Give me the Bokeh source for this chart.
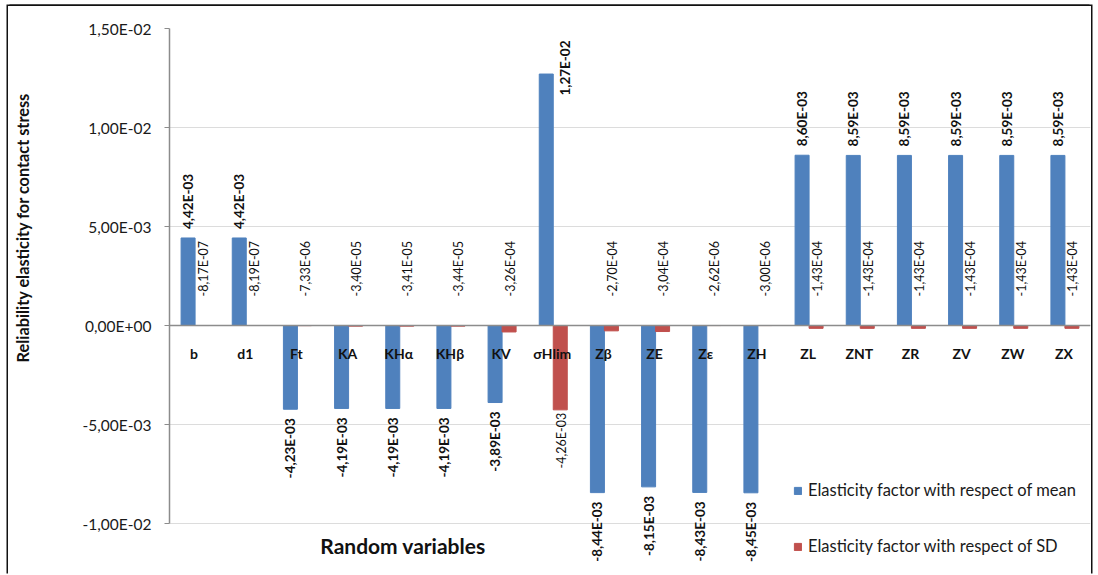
import math
from bokeh.plotting import figure
from bokeh.layouts import row
from bokeh.models import Range1d, FixedTicker, Span, Label, Legend, LegendItem, ColumnDataSource
from bokeh.core.properties import value
from bokeh.embed import file_html
from bokeh.resources import INLINE

# ---------------- data ----------------
categories = ["b", "d1", "Ft", "KA", "KH\u03b1", "KH\u03b2", "KV", "\u03c3Hlim", "Z\u03b2", "ZE",
              "Z\u03b5", "ZH", "ZL", "ZNT", "ZR", "ZV", "ZW", "ZX"]
mean_factor = [4.42e-3, 4.42e-3, -4.23e-3, -4.19e-3, -4.19e-3, -4.19e-3, -3.89e-3, 1.27e-2,
               -8.44e-3, -8.15e-3, -8.43e-3, -8.45e-3, 8.60e-3, 8.59e-3, 8.59e-3, 8.59e-3, 8.59e-3, 8.59e-3]
sd_factor = [-8.17e-7, -8.19e-7, -7.33e-6, -3.40e-5, -3.41e-5, -3.44e-5, -3.26e-4, -4.26e-3,
             -2.70e-4, -3.04e-4, -2.62e-6, -3.00e-6, -1.43e-4, -1.43e-4, -1.43e-4, -1.43e-4, -1.43e-4, -1.43e-4]
tick_values = [-0.01, -0.005, 0.0, 0.005, 0.01, 0.015]
tick_labels = ["-1,00E-02", "-5,00E-03", "0,00E+00", "5,00E-03", "1,00E-02", "1,50E-02"]
series_names = ["Elasticity factor with respect of mean", "Elasticity factor with respect of SD"]
x_title = "Random variables"
y_title = "Reliability elasticity for contact stress"

BLUE = "#4f81bd"
RED = "#c0504d"
FONTNAME = "Lato"
FONT = value(FONTNAME)

# ---------------- geometry (page coords) ----------------
OX, OY = 8, 6                 # layout offset on page
LW = 60                       # width of the left strip holding the vertical title
W, H = 1083 - LW, 569
BL, BT, BR, BB = 161 - LW, 22, 1, 0
frame_w = W - BL - BR
frame_h = H - BT - BB
PX = 99.0 / 0.005            # pixels per data unit (vertical)
y_top = 0.015
y_bot = y_top - frame_h / PX
n = len(categories)
CPX = frame_w / n            # pixels per category
FRAME_TOP = OY + BT
FRAME_LEFT = OX + LW + BL

def fmt(v):
    return f"{v:.2E}".replace(".", ",")

# ---- left strip with the y-axis title ----
t = figure(width=LW, height=H, output_backend="svg", toolbar_location=None,
           x_range=Range1d(0, LW), y_range=Range1d(0, H),
           x_axis_location=None, y_axis_location=None,
           min_border_left=0, min_border_right=0, min_border_top=0, min_border_bottom=0)
t.outline_line_color = None
t.xgrid.visible = False
t.ygrid.visible = False
t.text(x=[22 - OX], y=[H - (213 - OY)], text=[y_title], angle=math.pi / 2,
       text_align="center", text_baseline="middle", text_font=FONT,
       text_font_size="16.3px", text_font_style="bold", text_color="#111")

# ---- main chart ----
p = figure(width=W, height=H, output_backend="svg", toolbar_location=None,
           x_range=Range1d(0, n), y_range=Range1d(y_bot, y_top),
           x_axis_location=None, min_border_left=BL, min_border_top=BT,
           min_border_right=BR, min_border_bottom=BB)
p.outline_line_color = None
p.background_fill_color = "white"
p.border_fill_color = "white"

# grid & axis
p.xgrid.visible = False
p.ygrid.ticker = FixedTicker(ticks=tick_values)
p.ygrid.grid_line_color = "#dcdcdc"
p.ygrid.grid_line_width = 1

ya = p.yaxis[0]
ya.ticker = FixedTicker(ticks=tick_values)
ya.major_label_overrides = {v: s for v, s in zip(tick_values, tick_labels)}
ya.bounds = (tick_values[0], tick_values[-1])
ya.axis_line_color = "#8c8c8c"
ya.axis_line_width = 1.5
ya.major_tick_line_color = "#8c8c8c"
ya.major_tick_in = 0
ya.major_tick_out = 5
ya.minor_tick_line_color = None
ya.major_label_standoff = 13
ya.major_label_text_font = FONTNAME
ya.major_label_text_font_size = "15.5px"
ya.major_label_text_color = "#1a1a1a"

# zero line
p.add_layout(Span(location=0, dimension="width", line_color="#8c8c8c", line_width=1.5))

# bars
bw = 14.0 / CPX
off = 7.0 / CPX
xc = [i + 0.5 for i in range(n)]
src = ColumnDataSource(dict(xb=[x - off for x in xc], xr=[x + off for x in xc],
                            mean=mean_factor, sd=sd_factor))
rb = p.vbar(x="xb", top="mean", bottom=0, width=bw, source=src, fill_color=BLUE, line_color=BLUE)
rr = p.vbar(x="xr", top="sd", bottom=0, width=bw, source=src, fill_color=RED, line_color=RED)

# blue labels
gap = 9.0 / PX
lab_len = 58.0 / PX
bx, by, bt, ba = [], [], [], []
sx, sy, st = [], [], []
for i, v in enumerate(mean_factor):
    if v >= 0:
        if v + gap + lab_len > y_top:
            sx.append(xc[i] - off + 18.5 / CPX); sy.append(y_top - 12.0 / PX); st.append(fmt(v))
        else:
            bx.append(xc[i] - off); by.append(v + gap); bt.append(fmt(v)); ba.append("left")
    else:
        bx.append(xc[i] - off); by.append(v - gap); bt.append(fmt(v)); ba.append("right")
p.text(x=bx, y=by, text=bt, text_align=ba, angle=math.pi / 2, text_baseline="middle",
       text_font=FONT, text_font_size="13.5px", text_font_style="bold", text_color="#111")
p.text(x=sx, y=sy, text=st, text_align="right", angle=math.pi / 2, text_baseline="middle",
       text_font=FONT, text_font_size="13.5px", text_font_style="bold", text_color="#111")

# red labels
rx, ry, rt, ra = [], [], [], []
for i, v in enumerate(sd_factor):
    if abs(v) > 1e-3:
        rx.append(xc[i] + off + 1.0 / CPX); ry.append(v - 3.0 / PX); ra.append("right")
    else:
        rx.append(xc[i] + off + 1.0 / CPX); ry.append(29.0 / PX); ra.append("left")
    rt.append(fmt(v))
p.text(x=rx, y=ry, text=rt, text_align=ra, angle=math.pi / 2, text_baseline="middle",
       text_font=FONT, text_font_size="12.5px", text_color="#111")

# category labels
p.text(x=[x - 1.0 / CPX for x in xc], y=[-28.0 / PX] * n, text=categories, text_align="center",
       text_baseline="middle", text_font=FONT, text_font_size="14px", text_font_style="bold",
       text_color="#111")

# x title
p.add_layout(Label(x=(402.5 - FRAME_LEFT) / CPX, y=y_top - (545 - FRAME_TOP) / PX, text=x_title,
                   text_align="center", text_baseline="middle", text_font=FONTNAME,
                   text_font_size="21px", text_font_style="bold", text_color="#111"))

# legend
legend = Legend(items=[LegendItem(label=series_names[0], renderers=[rb]),
                       LegendItem(label=series_names[1], renderers=[rr])],
                location=(793 - FRAME_LEFT, OY + H - 556), orientation="vertical",
                padding=0, margin=0, spacing=36, label_height=20, glyph_height=9, glyph_width=9,
                label_standoff=6, label_text_font=FONTNAME, label_text_font_size="16.5px",
                label_text_color="#1a1a1a", background_fill_alpha=0, border_line_alpha=0)
p.add_layout(legend, "center")

lay = row(t, p, spacing=0)
lay.styles = {"margin-left": f"{OX}px", "margin-top": f"{OY}px",
              "box-shadow": "-1.5px -1.5px 0 0 #111, 1.5px -1.5px 0 0 #111"}

open("out.html", "w").write(file_html(lay, INLINE))
